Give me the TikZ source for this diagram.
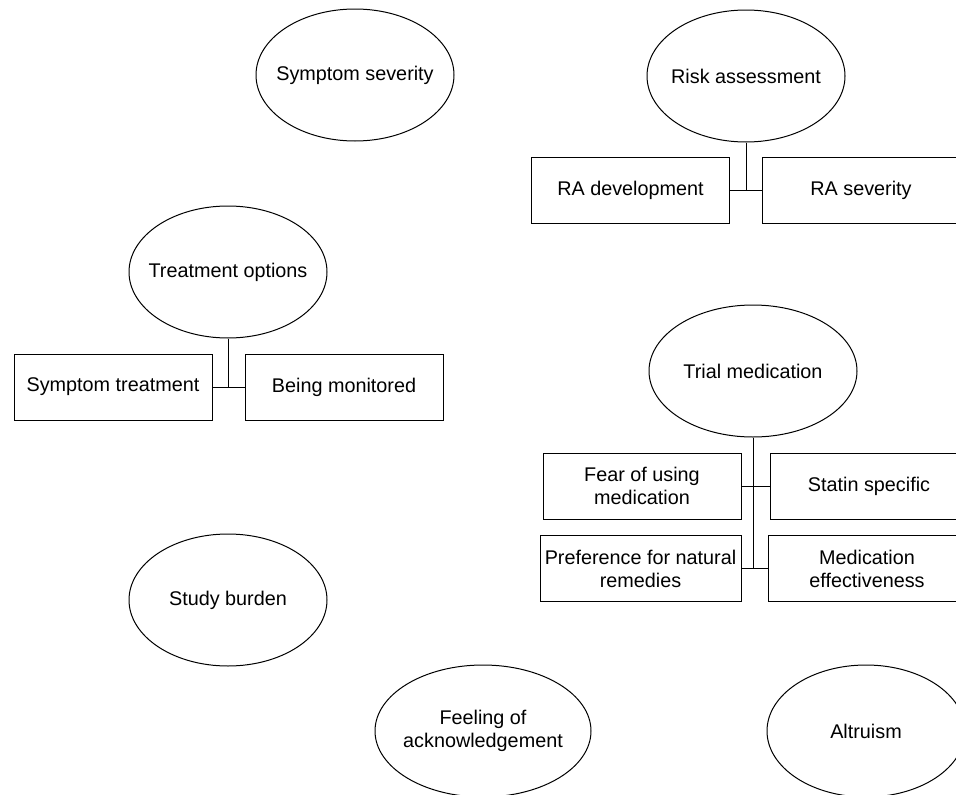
\documentclass[tikz,border=0pt]{standalone}
\usepackage{fontspec}
\setmainfont{Liberation Sans}
\usepackage{tikz}
\usetikzlibrary{shapes.geometric,positioning}

\begin{document}
\begin{tikzpicture}[x=1pt, y=-1pt, line width=1pt, font=\fontsize{19.8}{23}\selectfont,
		topic/.style={draw, ellipse, minimum width=198pt, minimum height=132pt, inner xsep=-12pt, inner ysep=0pt, align=center},
		sub/.style={draw, rectangle, minimum width=198pt, minimum height=66pt, inner sep=0pt, align=center}]
		\useasboundingbox (0,0) rectangle (956,795);

		\node[topic] (sev) at (355,75) {Symptom severity};
		\node[topic] (risk) at (746,76) {Risk assessment};
		\node[topic] (treat) at (228,272) {Treatment options};
		\node[topic, minimum width=208pt] (trial) at (753,371) {Trial medication};
		\node[topic] (burden) at (228,600) {Study burden};
		\node[topic, minimum width=216pt] (feel) at (483,731) {Feeling of\\acknowledgement};
		\node[topic] (altru) at (866,731) {Altruism};

		\node[sub] (radev) at (630.5,190.5) {RA development};
		\node[sub] (rasev) at (861,190.5) {RA severity};

		\node[sub] (symtr) at (113,387) {Symptom treatment};
		\node[sub] (monit) at (344,387) {Being monitored};

		\node[sub] (fear) at (642,486) {Fear of using\\medication};
		\node[sub] (statin) at (869,486) {Statin specific};
		\node[sub, minimum width=201pt] (pref) at (640.5,568.5) {Preference for natural\\remedies};
		\node[sub] (medeff) at (867,568.5) {Medication\\effectiveness};

		\coordinate (jr) at (746,190.5);
		\coordinate (jt) at (228,387);
		\coordinate (jm) at (753,568.5);

		\draw (risk.south) -- (jr);
		\draw (radev.east) -- (rasev.west);

		\draw (treat.south) -- (jt);
		\draw (symtr.east) -- (monit.west);

		\draw (trial.south) -- (jm);
		\draw (fear.east) -- (statin.west);
		\draw (pref.east) -- (medeff.west);
	\end{tikzpicture}
\end{document}
